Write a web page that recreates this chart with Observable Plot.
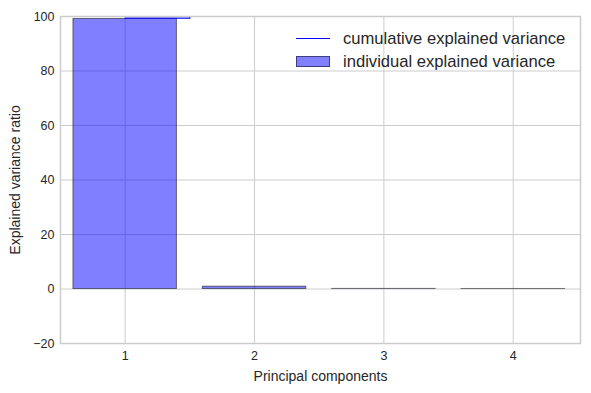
<!DOCTYPE html>
<html>
<head>
<meta charset="utf-8">
<script src="https://cdn.jsdelivr.net/npm/d3@7"></script>
<script src="https://cdn.jsdelivr.net/npm/@observablehq/plot@0.6"></script>
<style>
  body { margin: 0; background: #fff; font-family: "Liberation Sans", Arial, sans-serif; }
  #wrap { position: relative; width: 591px; height: 393px; }
  #legend { position: absolute; left: 296px; top: 27px; font-size: 16.6px; color: #262626; line-height: 23px; }
  .row { display: flex; align-items: center; }
  .sw { width: 34px; margin-right: 13px; display: inline-block; box-sizing: border-box; }
  svg g[aria-label="x-axis label"] text, svg g[aria-label="y-axis label"] text { font-size: 14px; }
</style>
</head>
<body>
<div id="wrap">
  <div id="chart"></div>
  <div id="legend">
    <div class="row"><span class="sw" style="height:1.3px;background:#0000ff;"></span>cumulative explained variance</div>
    <div class="row"><span class="sw" style="height:11px;background:rgba(0,0,255,0.5);border:1px solid rgba(0,0,0,0.5);"></span>individual explained variance</div>
  </div>
</div>
<script>
const components = [1, 2, 3, 4];
const individual = [99.1, 0.85, 0.04, 0.01];
const cumulative = [99.1, 99.98, 100, 100];
const yTicks = [-20, 0, 20, 40, 60, 80, 100];
const xTicks = [1, 2, 3, 4];

const bars = components.map((c, i) => ({pc: c, v: individual[i]}));
const cum = components.map((c, i) => ({pc: c, v: cumulative[i]}));

const chart = Plot.plot({
  width: 591,
  height: 393,
  marginLeft: 60,
  marginRight: 11,
  marginTop: 16,
  marginBottom: 50,
  style: {fontFamily: "'Liberation Sans', Arial, sans-serif", fontSize: "12.5px", color: "#262626", background: "#fff"},
  x: {domain: [0.5, 4.52], ticks: xTicks, tickFormat: d3.format("d"), tickSize: 0, tickPadding: 8, label: "Principal components", labelAnchor: "center", labelArrow: "none", labelOffset: 37},
  y: {domain: [-20, 100], ticks: yTicks, tickSize: 0, tickPadding: 6, label: "Explained variance ratio", labelAnchor: "center", labelArrow: "none", labelOffset: 50, tickFormat: d => d < 0 ? "\u2212" + Math.abs(d) : String(d)},
  marks: [
    Plot.gridX(xTicks, {stroke: "#cccccc", strokeOpacity: 1}),
    Plot.gridY(yTicks, {stroke: "#cccccc", strokeOpacity: 1}),
    Plot.rectY(bars, {x1: d => d.pc - 0.4, x2: d => d.pc + 0.4, y1: 0, y2: "v", fill: "#0000ff", fillOpacity: 0.5, stroke: "#000", strokeOpacity: 0.5, strokeWidth: 1}),
    Plot.line(cum, {x: "pc", y: "v", curve: "step", stroke: "#0000ff", strokeWidth: 1.2, dy: -0.8, clip: true}),
    Plot.frame({stroke: "#cccccc", strokeWidth: 1.5})
  ]
});
document.getElementById("chart").appendChild(chart);
</script>
</body>
</html>
